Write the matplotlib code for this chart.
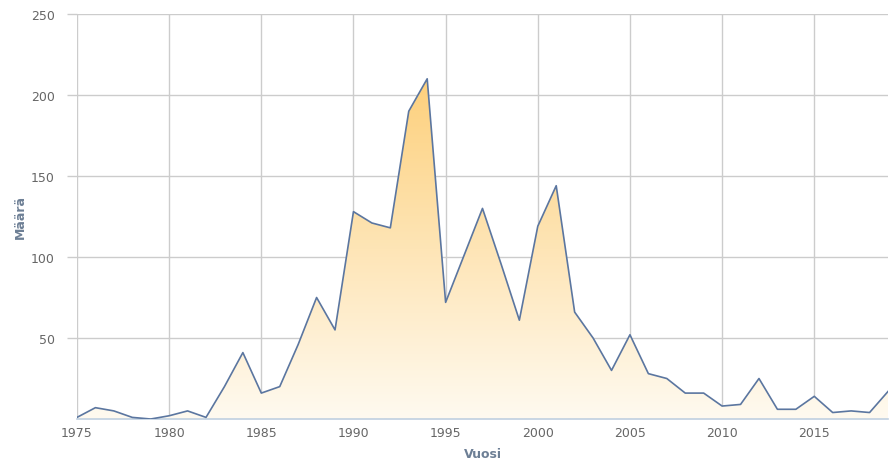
import matplotlib.pyplot as plt
import numpy as np
from matplotlib.colors import LinearSegmentedColormap

plt.rcParams['font.family'] = ['DejaVu Sans']

years = list(range(1975, 2020))
counts = [1, 7, 5, 1, 0, 2, 5, 1, 20, 41,
          16, 20, 46, 75, 55, 128, 121, 118, 190, 210,
          72, 101, 130, 96, 61, 119, 144, 66, 50, 30,
          52, 28, 25, 16, 16, 8, 9, 25, 6, 6,
          14, 4, 5, 4, 17]
xticks = list(range(1975, 2020, 5))
yticks = [50, 100, 150, 200, 250]

fig = plt.figure(figsize=(8.93, 4.64), dpi=100)
ax = fig.add_axes([0.0862, 0.0948, 0.9082, 0.8729])

x = np.array(years)
y = np.array(counts)

# gradient fill under the line
cmap = LinearSegmentedColormap.from_list("grad", ["#fffaf0", "#fdd07c"])
grad = np.linspace(0, 1, 256).reshape(-1, 1)
img = ax.imshow(grad, cmap=cmap, aspect='auto', origin='lower',
                extent=[x[0], x[-1], 0, y.max()], zorder=1)
clip = plt.Polygon(np.column_stack([np.r_[x, x[-1], x[0]], np.r_[y, 0, 0]]),
                   transform=ax.transData, facecolor='none', edgecolor='none')
ax.add_patch(clip)
img.set_clip_path(clip)

ax.plot(x, y, color='#5b76a0', lw=1.2, zorder=3)

ax.set_xlim(1975, 2019)
ax.set_ylim(0, 250)
ax.set_xticks(xticks)
ax.set_yticks(yticks)
ax.grid(color='#cccccc', lw=1, zorder=0)
ax.set_axisbelow(True)
for s in ['top', 'right', 'left']:
    ax.spines[s].set_visible(False)
ax.spines['bottom'].set_color('#c0d0e0')
ax.spines['bottom'].set_linewidth(1.2)
ax.tick_params(axis='both', labelsize=9, labelcolor='#666666')
ax.tick_params(axis='y', length=7, width=1, color='#cccccc', pad=9)
ax.tick_params(axis='x', length=0, pad=5)

ax.set_xlabel("Vuosi", fontsize=9, fontweight='bold', color='#6d7f95', labelpad=6)
ax.set_ylabel("Määrä", fontsize=9, fontweight='bold', color='#6d7f95', labelpad=3)

plt.savefig("out.png", dpi=100)
plt.close()
